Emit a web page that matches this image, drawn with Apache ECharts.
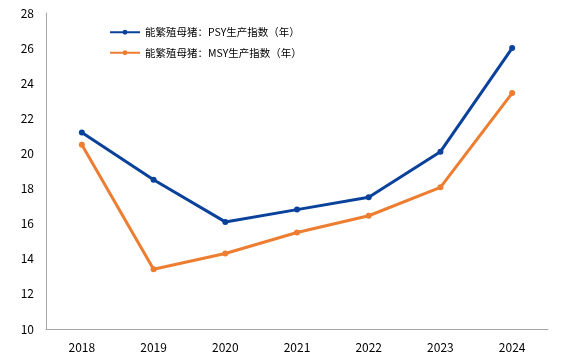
<!DOCTYPE html>
<html><head><meta charset="utf-8">
<script src="https://cdn.jsdelivr.net/npm/echarts@6/dist/echarts.min.js"></script>
<style>html,body{margin:0;padding:0;background:#fff}#c{width:573px;height:357px}</style>
</head><body><div id="c"></div>
<script>
var categories = ['2018','2019','2020','2021','2022','2023','2024'];
var psyValues = [21.2, 18.5, 16.1, 16.8, 17.5, 20.1, 26.0];
var msyValues = [20.5, 13.4, 14.3, 15.5, 16.45, 18.07, 23.44];
var seriesNames = ['能繁殖母猪：PSY生产指数（年）', '能繁殖母猪：MSY生产指数（年）'];

var chart = echarts.init(document.getElementById('c'));
chart.setOption({
  animation: false,
  backgroundColor: '#fff',
  textStyle: {fontFamily: '"Noto Sans CJK SC", "Noto Sans", sans-serif'},
  legend: {
    orient: 'vertical', left: 104, top: 22, itemGap: 10,
    itemWidth: 30, itemHeight: 6,
    textStyle: {fontSize: 10.5, color: '#000'},
    data: seriesNames
  },
  grid: {left: 46, right: 25, top: 13, bottom: 28, containLabel: false},
  xAxis: {
    type: 'category', data: categories, boundaryGap: true,
    axisLine: {lineStyle: {color: '#a6a6a6', width: 1}},
    axisTick: {show: false},
    axisLabel: {color: '#000', fontSize: 12, margin: 12}
  },
  yAxis: {
    type: 'value', min: 10, max: 28, interval: 2,
    axisLine: {show: true, lineStyle: {color: '#a6a6a6', width: 1}},
    axisTick: {show: false},
    splitLine: {show: false},
    axisLabel: {color: '#000', fontSize: 12, margin: 12}
  },
  series: [
    {name: seriesNames[0], type: 'line', data: psyValues, symbol: 'circle', symbolSize: 6,
     lineStyle: {color: '#0a419b', width: 3}, itemStyle: {color: '#0a419b'}},
    {name: seriesNames[1], type: 'line', data: msyValues, symbol: 'circle', symbolSize: 6,
     lineStyle: {color: '#ed7d31', width: 3}, itemStyle: {color: '#ed7d31'}}
  ]
});
</script></body></html>
